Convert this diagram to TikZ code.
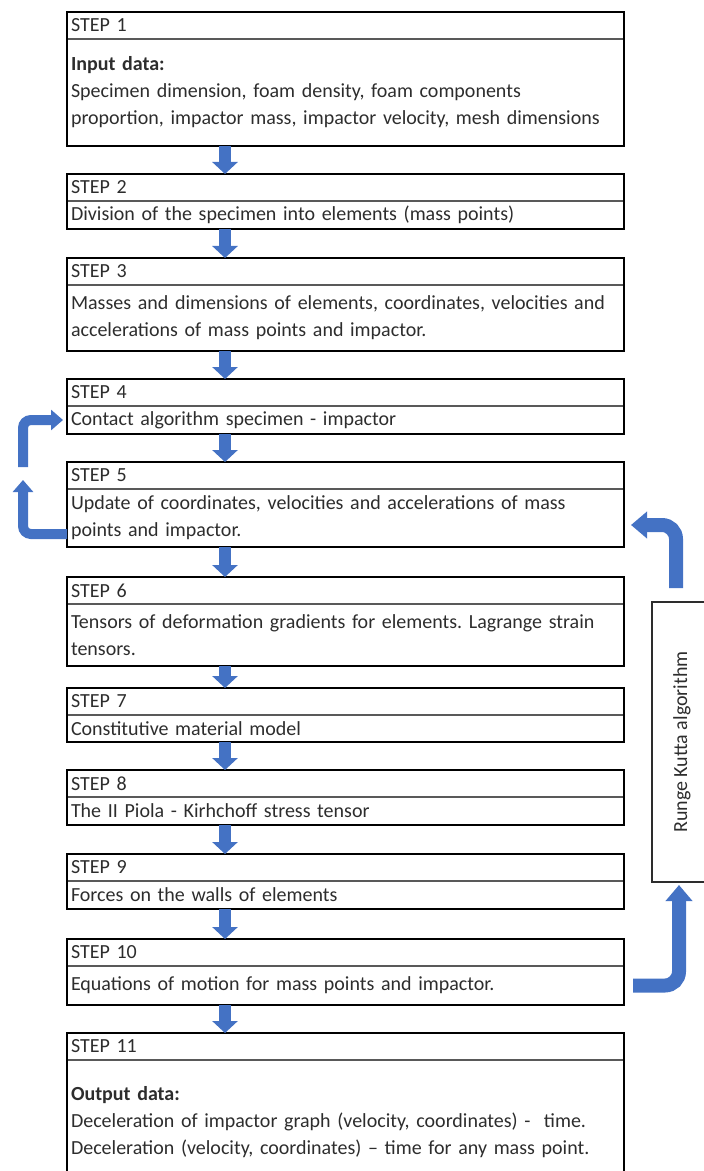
\documentclass[tikz,border=0pt]{standalone}
\usepackage{fontspec}
\setmainfont{Carlito}
\frenchspacing
\usetikzlibrary{arrows.meta,positioning}
\definecolor{ink}{RGB}{45,45,45}
\definecolor{arw}{RGB}{68,114,196}
\tikzset{
  hdr/.style={draw=gray!70!black,line width=0.8pt,outer sep=0pt,inner xsep=2pt,inner ysep=0pt,
    text width=274.5pt,minimum height=13.5pt,align=left,
    font=\fontsize{10}{13.5}\selectfont,text=ink},
  body/.style={hdr,minimum height=#1},
  stepframe/.style={draw=black,line width=1.4pt},
  nextarr/.style={-{Triangle[width=12.5pt,length=6pt]},line width=6pt,arw},
  back/.style={-{Triangle[width=10pt,length=6pt]},line width=5pt,arw,rounded corners=4pt},
  rkarr/.style={-{Triangle[width=13pt,length=8pt]},line width=7pt,arw,rounded corners=7pt},
  rkbox/.style={draw=ink,line width=1pt,outer sep=0pt,inner sep=0pt,minimum width=30pt,
    minimum height=140pt,font=\fontsize{10}{12}\selectfont,text=ink},
}

\begin{document}
\begin{tikzpicture}[node distance=14pt]
  \useasboundingbox (0,0) rectangle (352pt,-585.5pt);
  \node[hdr,anchor=north west] (h1) at (33.5pt,-6pt) {STEP 1};
  \node[body=53.5pt,below=0pt of h1] (b1) {\textbf{Input data:}\\
    Specimen dimension, foam density, foam components\\
    proportion, impactor mass, impactor velocity, mesh dimensions};
  \node[hdr,below=of b1] (h2) {STEP 2};
  \node[body=14pt,below=0pt of h2] (b2) {Division of the specimen into elements (mass points)};
  \node[hdr,below=14.5pt of b2] (h3) {STEP 3};
  \node[body=33pt,below=0pt of h3] (b3) {Masses and dimensions of elements, coordinates, velocities and\\
    accelerations of mass points and impactor.};
  \node[hdr,below=of b3] (h4) {STEP 4};
  \node[body=14pt,below=0pt of h4] (b4) {Contact algorithm specimen - impactor};
  \node[hdr,below=of b4] (h5) {STEP 5};
  \node[body=29pt,below=0pt of h5] (b5) {Update of coordinates, velocities and accelerations of mass\\
    points and impactor.};
  \node[hdr,below=15pt of b5] (h6) {STEP 6};
  \node[body=31pt,below=0pt of h6] (b6) {Tensors of deformation gradients for elements. Lagrange strain\\
    tensors.};
  \node[hdr,below=11pt of b6] (h7) {STEP 7};
  \node[body=13.5pt,below=0pt of h7] (b7) {Constitutive material model};
  \node[hdr,below=of b7] (h8) {STEP 8};
  \node[body=14pt,below=0pt of h8] (b8) {The II Piola - Kirhchoff stress tensor};
  \node[hdr,below=14.5pt of b8] (h9) {STEP 9};
  \node[body=14pt,below=0pt of h9] (b9) {Forces on the walls of elements};
  \node[hdr,below=15pt of b9] (h10) {STEP 10};
  \node[body=19.5pt,below=0pt of h10] (b10) {Equations of motion for mass points and impactor.};
  \node[hdr,below=of b10] (h11) {STEP 11};
  \node[body=62pt,below=0pt of h11] (b11) {\textbf{Output data:}\\
    Deceleration of impactor graph (velocity, coordinates) - \ time.\\
    Deceleration (velocity, coordinates) -- time for any mass point.};
  \node[rkbox] (rk) at (341pt,-371pt) {\rotatebox{90}{Runge Kutta algorithm}};
  % outer frames
  \foreach \i in {1,...,11}
    \draw[stepframe] (h\i.north west) rectangle (b\i.south east);
  % arrows between steps
  \coordinate (ax) at (112.5pt,0);
  \foreach \a/\b in {1/2,2/3,3/4,4/5,5/6,6/7,7/8,8/9,9/10,10/11}
    \draw[nextarr] (b\a.south -| ax) -- (h\b.north -| ax);
  \draw[back] ([yshift=-8pt]b5.west) -| ([xshift=-22pt,yshift=-9pt]h5.north west);
  \draw[back,shorten >=2pt] ([xshift=-22pt,yshift=-2.5pt]h5.north west) |- (b4.west);
  \draw[rkarr] ([xshift=-3pt,yshift=7pt]rk.north) |- ([xshift=3.5pt,yshift=-3.5pt]b5.east);
  \draw[rkarr] ([xshift=4.5pt]b10.east) -| ([xshift=-1.5pt,yshift=-1.5pt]rk.south);
\end{tikzpicture}
\end{document}
